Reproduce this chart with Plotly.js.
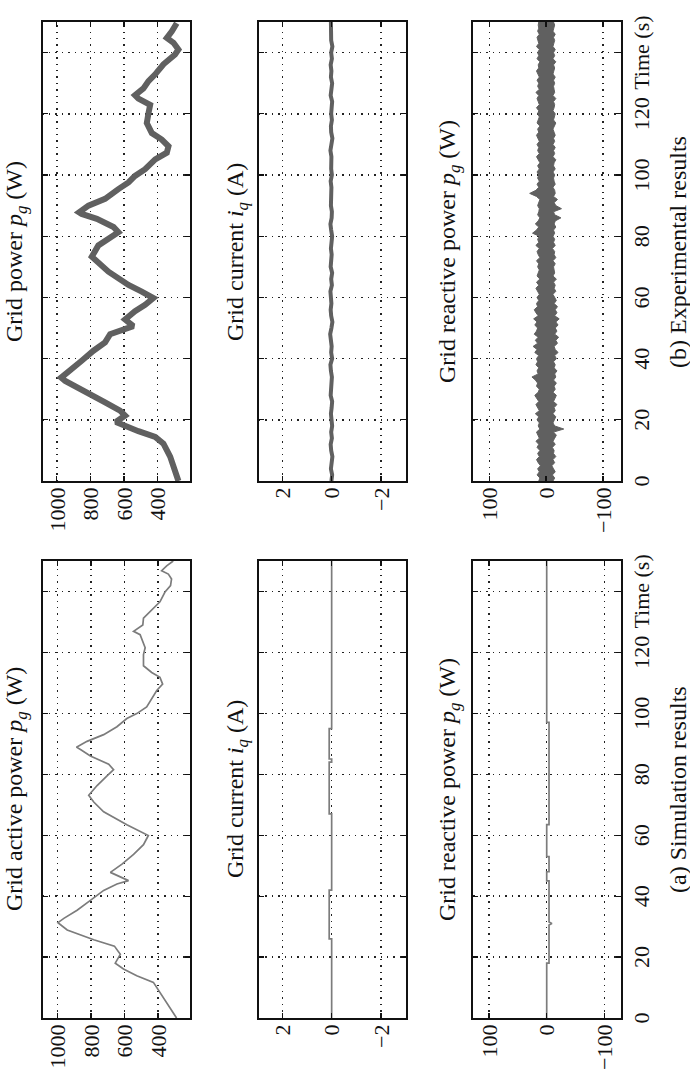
<!DOCTYPE html>
<html>
<head>
<meta charset="utf-8">
<script src="https://cdn.plot.ly/plotly-3.0.1.min.js"></script>
<style>
  html, body { margin:0; padding:0; width:690px; height:1074px; overflow:hidden; background:#fff; }
  #plot { position:absolute; left:0; top:0; width:1074px; height:690px;
          transform-origin:0 0; transform:translate(0px,1074px) rotate(-90deg); }
</style>
</head>
<body>
<div id="plot"></div>
<script>
// ---------- data ----------
const timeTicks = [0,20,40,60,80,100,120,140];
const timeTickText = ['0','20','40','60','80','100','120','Time (s)'];
const powerTicks = [400,600,800,1000];
const currentTicks = [-2,0,2];
const currentTickText = ['\u22122','0','2'];
const reactiveTicks = [-100,0,100];
const reactiveTickText = ['\u2212100','0','100'];

// (a) simulation: grid active power
const simT = [0,4.2,8.5,11.7,13.9,16.1,18.0,20.9,23.6,25.7,28.9,31.3,32.7,35.4,38.6,41.9,44.0,45.1,47.8,50.5,53.7,56.9,59.9,61.7,63.4,67.7,70.9,73.1,76.3,79.5,81.5,83.3,86.0,88.1,88.9,90.8,93.0,95.6,98.3,99.9,102.1,107.5,109.6,111.8,113.4,115.6,119.3,121.5,125.8,126.9,129.0,131.2,134.4,136.6,139.8,141.9,144.1,145.7,146.8,148.4,150];
const simP = [290,339,389,428,527,606,655,625,660,783,941,996,961,882,803,724,645,576,684,615,546,487,458,527,586,724,783,813,763,704,665,694,803,862,886,823,724,645,586,527,468,408,373,389,438,487,487,477,507,546,491,487,428,389,359,326,320,339,379,349,310];

// (a) simulation: grid current iq
const simIqT = [0,26,26,42,42,67,67,84,84,85,85,95,95,150];
const simIq  = [0,0,0.1,0.1,0,0,0.1,0.1,0,0,0.1,0.1,0,0];

// (a) simulation: grid reactive power
const simQT = [0,18,18,30.5,31,31.5,32,45,45,48,48,53,53,63.5,63.5,97,97,150];
const simQ  = [0,0,-4,-4,-9,-4,-4,-4,0,0,-4,-4,0,0,-4,-4,0,0];

// (b) experiment: grid power
const expT = [0,3.6,8.0,12.2,14.4,16.3,18.2,19.3,21.4,23.0,25.7,29.5,32.7,33.8,36.0,39.3,42.6,45.3,48.0,50.6,52.8,55.5,57.6,59.8,61.9,64.1,68.4,71.6,73.3,77.0,79.2,81.3,83.0,85.7,87.3,87.8,90.0,92.2,95.4,97.6,99.7,101.9,105.1,107.3,109.4,111.6,113.7,117.0,120.2,122.9,125.0,126.1,128.3,130.7,132.9,136.2,139.4,141.0,143.2,144.8,147.0,149.6];
const expP = [277,297,326,366,415,515,604,649,594,624,713,852,950,974,930,852,782,713,683,545,594,535,475,426,495,574,693,762,792,753,693,634,663,762,852,867,812,713,634,574,535,475,415,346,336,376,435,465,455,445,515,535,485,455,415,366,297,277,306,346,316,287];

// (b) experiment: grid current iq (2 s samples)
const expIqT = [0,2,4,6,8,10,12,14,16,18,20,22,24,26,28,30,32,34,36,38,40,42,44,46,48,50,52,54,56,58,60,62,64,66,68,70,72,74,76,78,80,82,84,86,88,90,92,94,96,98,100,102,104,106,108,110,112,114,116,118,120,122,124,126,128,130,132,134,136,138,140,142,144,146,148,150];
const expIq = [0.01,-0.02,0.03,0.00,-0.03,0.02,0.04,-0.01,0.02,-0.02,0.01,0.03,0.00,-0.02,0.04,0.01,0.02,-0.01,0.03,0.05,-0.02,0.02,0.00,0.03,0.06,0.01,-0.03,0.02,0.04,0.01,0.02,0.05,-0.01,0.02,-0.02,0.04,0.02,0.00,0.03,0.01,-0.02,0.02,0.05,0.00,-0.01,0.03,0.02,-0.02,0.01,0.04,-0.01,0.02,0.00,0.01,0.05,0.01,-0.03,0.02,0.03,-0.01,0.02,0.00,-0.02,0.04,0.01,-0.02,0.03,0.01,0.04,-0.01,0.02,-0.03,0.02,0.01,0.00,0.03];

// (b) experiment: grid reactive power, upper / lower edge of the noise band (1 s samples)
const expQT = [0,1,2,3,4,5,6,7,8,9,10,11,12,13,14,15,16,17,18,19,20,21,22,23,24,25,26,27,28,29,30,31,32,33,34,35,36,37,38,39,40,41,42,43,44,45,46,47,48,49,50,51,52,53,54,55,56,57,58,59,60,61,62,63,64,65,66,67,68,69,70,71,72,73,74,75,76,77,78,79,80,81,82,83,84,85,86,87,88,89,90,91,92,93,94,95,96,97,98,99,100,101,102,103,104,105,106,107,108,109,110,111,112,113,114,115,116,117,118,119,120,121,122,123,124,125,126,127,128,129,130,131,132,133,134,135,136,137,138,139,140,141,142,143,144,145,146,147,148,149,150];
const expQHi = [13,11,16,12,15,10,14,17,12,15,
  11,16,13,18,12,15,17,11,14,12,
  16,13,19,12,15,18,13,16,20,14,
  12,17,15,19,25,14,16,13,18,15,
  17,13,20,16,23,15,19,14,21,17,
  15,20,16,22,14,18,21,15,17,13,
  16,12,15,18,13,17,11,16,14,12,
  15,13,17,11,14,16,12,18,13,15,
  12,24,17,13,19,14,11,15,13,12,
  15,13,11,17,29,18,13,16,12,15,
  13,16,12,15,11,14,17,12,15,13,
  16,12,14,17,13,15,11,16,14,12,
  15,13,17,12,14,16,13,18,12,15,
  13,16,12,15,17,13,14,11,16,13,
  15,12,17,13,14,16,12,15,13,14,
  13];
const expQLo = [-12,-15,-11,-16,-13,-10,-15,-12,-17,-13,
  -14,-11,-16,-12,-15,-18,-13,-31,-15,-12,
  -15,-17,-12,-16,-14,-19,-13,-15,-18,-12,
  -16,-14,-18,-13,-17,-15,-19,-14,-16,-13,
  -18,-15,-21,-16,-14,-20,-17,-22,-15,-19,
  -16,-21,-17,-23,-15,-19,-16,-20,-14,-18,
  -15,-12,-17,-14,-16,-13,-18,-12,-15,-14,
  -13,-16,-12,-17,-14,-15,-11,-16,-13,-15,
  -12,-15,-13,-17,-14,-16,-26,-15,-13,-27,
  -17,-14,-20,-13,-16,-15,-12,-16,-14,-13,
  -15,-12,-16,-13,-14,-17,-12,-15,-13,-16,
  -12,-15,-13,-16,-14,-12,-15,-17,-13,-14,
  -16,-12,-14,-15,-13,-17,-12,-15,-14,-13,
  -15,-13,-16,-12,-14,-15,-13,-17,-12,-15,
  -13,-16,-12,-14,-15,-13,-16,-12,-14,-15,
  -13];

// ---------- layout helpers ----------
const FONT = 'Liberation Serif';
const colA = [0.0521, 0.4777];
const colB = [0.5521, 0.9795];
const rows = [[0.7246,0.9384],[0.4123,0.6246],[0.1007,0.3138]];

function common(){
  return {ticks:'inside', ticklen:5, tickwidth:1.3, tickcolor:'#111',
    showline:true, mirror:'ticks', linecolor:'#111', linewidth:2,
    showgrid:true, gridcolor:'#222', gridwidth:1.4, griddash:'1.4px,5px',
    zeroline:false, fixedrange:true,
    tickfont:{family:FONT, size:22, color:'#111'}};
}
function xax(domain, anchor, labels){
  return Object.assign(common(), {domain, anchor, range:[0,150],
    tickmode:'array', tickvals:timeTicks, ticktext:timeTickText, showticklabels:labels});
}
function yax(domain, anchor, range, vals, text){
  const o = Object.assign(common(), {domain, anchor, range, tickmode:'array', tickvals:vals});
  if (text) o.ticktext = text;
  return o;
}

const layout = {
  width:1074, height:690, margin:{l:0,r:0,t:0,b:0},
  paper_bgcolor:'#fff', plot_bgcolor:'#fff', showlegend:false,
  font:{family:FONT, color:'#111'},
  xaxis:  xax(colA,'y',false),  yaxis:  yax(rows[0],'x',[210,1088],powerTicks),
  xaxis2: xax(colA,'y2',false), yaxis2: yax(rows[1],'x2',[-3,2.95],currentTicks,currentTickText),
  xaxis3: xax(colA,'y3',true),  yaxis3: yax(rows[2],'x3',[-128,127],reactiveTicks,reactiveTickText),
  xaxis4: xax(colB,'y4',false), yaxis4: yax(rows[0],'x4',[208,1085],powerTicks),
  xaxis5: xax(colB,'y5',false), yaxis5: yax(rows[1],'x5',[-3,2.95],currentTicks,currentTickText),
  xaxis6: xax(colB,'y6',true),  yaxis6: yax(rows[2],'x6',[-131,128],reactiveTicks,reactiveTickText),
  annotations: []
};

const titles = [
  ['Grid active power <i>p</i><sub><i>g</i></sub> (W)', 0.2649, 0.9768],
  ['Grid current <i>i</i><sub><i>q</i></sub> (A)', 0.2649, 0.6565],
  ['Grid reactive power <i>p</i><sub><i>g</i></sub> (W)', 0.2649, 0.3493],
  ['Grid power <i>p</i><sub><i>g</i></sub> (W)', 0.7658, 0.9768],
  ['Grid current <i>i</i><sub><i>q</i></sub> (A)', 0.7658, 0.6565],
  ['Grid reactive power <i>p</i><sub><i>g</i></sub> (W)', 0.7658, 0.3493],
  ['(a) Simulation results', 0.2649, 0.0174],
  ['(b) Experimental results', 0.7658, 0.0174]
];
titles.forEach(t => layout.annotations.push({text:t[0], x:t[1], y:t[2], xref:'paper', yref:'paper',
  xanchor:'center', yanchor:'middle', showarrow:false, font:{family:FONT, size:24, color:'#111'}}));

// closed outline of the reactive-power noise band
const bandX = expQT.concat(expQT.slice().reverse());
const bandY = expQHi.concat(expQLo.slice().reverse());

const simLine = {color:'#7c7c7c', width:1.7};
const expColor = '#606060';
const data = [
  {x:simT, y:simP, xaxis:'x', yaxis:'y', mode:'lines', line:simLine},
  {x:simIqT, y:simIq, xaxis:'x2', yaxis:'y2', mode:'lines', line:simLine},
  {x:simQT, y:simQ, xaxis:'x3', yaxis:'y3', mode:'lines', line:simLine},
  {x:expT, y:expP, xaxis:'x4', yaxis:'y4', mode:'lines', line:{color:expColor, width:6}},
  {x:expIqT, y:expIq, xaxis:'x5', yaxis:'y5', mode:'lines', line:{color:expColor, width:4}},
  {x:bandX, y:bandY, xaxis:'x6', yaxis:'y6', mode:'lines', fill:'toself', fillcolor:expColor,
   line:{color:expColor, width:1}}
];

Plotly.newPlot('plot', data, layout, {displayModeBar:false, staticPlot:true});
</script>
</body>
</html>
